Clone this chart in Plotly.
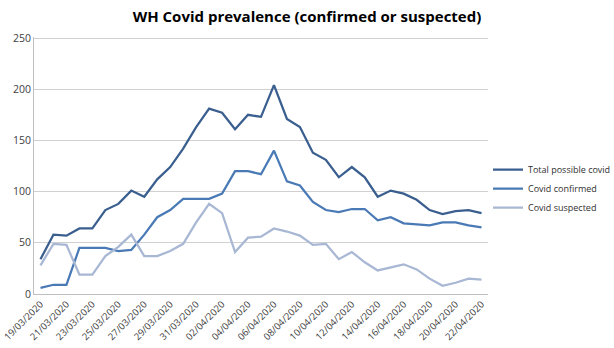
import plotly.graph_objects as go

dates = ["19/03/2020","20/03/2020","21/03/2020","22/03/2020","23/03/2020","24/03/2020","25/03/2020",
         "26/03/2020","27/03/2020","28/03/2020","29/03/2020","30/03/2020","31/03/2020","01/04/2020",
         "02/04/2020","03/04/2020","04/04/2020","05/04/2020","06/04/2020","07/04/2020","08/04/2020",
         "09/04/2020","10/04/2020","11/04/2020","12/04/2020","13/04/2020","14/04/2020","15/04/2020",
         "16/04/2020","17/04/2020","18/04/2020","19/04/2020","20/04/2020","21/04/2020","22/04/2020"]

total = [34, 58, 57, 64, 64, 82, 88, 101, 95, 112, 124, 142, 163, 181, 177, 161, 175, 173, 204, 171,
         163, 138, 131, 114, 124, 114, 95, 101, 98, 92, 82, 78, 81, 82, 79]
confirmed = [6, 9, 9, 45, 45, 45, 42, 43, 58, 75, 82, 93, 93, 93, 98, 120, 120, 117, 140, 110,
             106, 90, 82, 80, 83, 83, 72, 75, 69, 68, 67, 70, 70, 67, 65]
suspected = [28, 49, 48, 19, 19, 37, 46, 58, 37, 37, 42, 49, 70, 88, 79, 41, 55, 56, 64, 61,
             57, 48, 49, 34, 41, 31, 23, 26, 29, 24, 15, 8, 11, 15, 14]

names = ["Total possible covid", "Covid confirmed", "Covid suspected"]
colors = ["#3A5F8F", "#4A7AB5", "#A8B7D3"]

tick_labels = dates[::2]

fig = go.Figure()
for name, vals, col in zip(names, [total, confirmed, suspected], colors):
    fig.add_trace(go.Scatter(x=dates, y=vals, mode="lines", name=name,
                             line=dict(color=col, width=2.25)))

fig.update_layout(
    width=614, height=348,
    margin=dict(l=34, r=126, t=37, b=54, autoexpand=False),
    paper_bgcolor="white", plot_bgcolor="white",
    font=dict(family="Open Sans, Liberation Sans, sans-serif", color="#404040", size=10),
    title=dict(text="<b>WH Covid prevalence (confirmed or suspected)</b>",
               x=0.5, xanchor="center", y=0.968, yanchor="top",
               font=dict(size=15, color="#000000", family="Open Sans, sans-serif")),
    showlegend=True,
    legend=dict(x=1.0, xanchor="left", y=0.41, yanchor="middle",
                font=dict(size=9, color="#303030"), tracegroupgap=0, itemwidth=30,
                bgcolor="rgba(0,0,0,0)"),
    xaxis=dict(type="category", range=[-0.5, 34.5], tickmode="array", automargin=False,
               tickvals=tick_labels, ticktext=tick_labels, tickangle=-45,
               showgrid=False, showline=True, linecolor="#BFBFBF", linewidth=1,
               ticks="", tickfont=dict(size=9.5, color="#404040")),
    yaxis=dict(range=[0, 251], tickvals=[0, 50, 100, 150, 200, 250], showgrid=True,
               gridcolor="#D0D0D0", gridwidth=1, automargin=False,
               showline=True, linecolor="#BFBFBF", linewidth=1, zeroline=False,
               ticks="", tickfont=dict(size=10.5, color="#404040")),
)

fig.write_html("out.html")
